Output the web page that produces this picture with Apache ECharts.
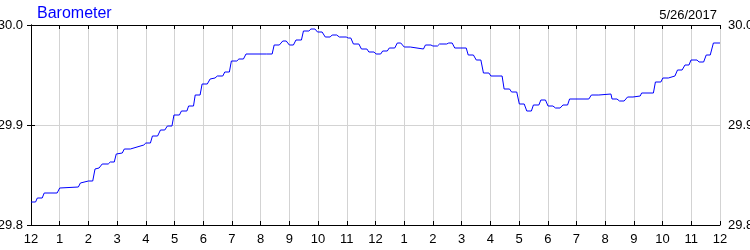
<!DOCTYPE html>
<html>
<head>
<meta charset="utf-8">
<script src="https://cdn.jsdelivr.net/npm/echarts@6/dist/echarts.min.js"></script>
<style>html,body{margin:0;padding:0;background:#fff}#c{width:750px;height:250px}</style>
</head>
<body>
<div id="c"></div>
<script>
// Time of day in hours since midnight (5/26/2017)
var hours = [0,0.16,0.22,0.39,0.46,0.91,1.00,1.65,1.72,2.00,2.15,2.23,2.37,2.48,2.69,2.76,2.90,2.97,3.18,3.25,3.46,3.51,3.93,4.00,4.16,4.23,4.41,4.51,4.66,4.75,4.91,4.98,5.17,5.24,5.43,5.49,5.66,5.72,5.89,5.96,6.14,6.24,6.41,6.49,6.68,6.75,6.91,6.98,7.17,7.24,7.40,7.49,8.21,8.40,8.47,8.65,8.77,8.89,9.00,9.14,9.23,9.42,9.49,9.68,9.75,9.89,9.98,10.14,10.25,10.42,10.49,10.65,10.74,10.98,11.05,11.14,11.23,11.42,11.51,11.70,11.77,11.95,12.02,12.18,12.25,12.41,12.48,12.67,12.76,12.88,13.00,13.21,13.25,13.67,13.74,13.93,14.00,14.16,14.23,14.48,14.55,14.67,14.76,15.16,15.23,15.41,15.51,15.67,15.76,15.95,16.02,16.41,16.48,16.67,16.74,16.92,17.01,17.18,17.27,17.43,17.50,17.69,17.76,17.92,18.01,18.18,18.27,18.43,18.53,18.69,18.76,19.43,19.52,19.78,19.83,20.20,20.24,20.41,20.50,20.66,20.78,20.97,21.01,21.22,21.27,21.68,21.75,21.94,22.01,22.20,22.26,22.43,22.52,22.68,22.78,22.92,22.99,23.20,23.27,23.43,23.52,23.66,23.77,24.00];
// Barometer (inHg)
var pressure = [29.823,29.823,29.827,29.827,29.832,29.832,29.837,29.838,29.842,29.844,29.844,29.856,29.857,29.861,29.861,29.863,29.863,29.871,29.872,29.876,29.876,29.878,29.880,29.882,29.882,29.889,29.889,29.895,29.895,29.899,29.899,29.910,29.910,29.914,29.914,29.919,29.919,29.930,29.930,29.941,29.941,29.946,29.947,29.949,29.949,29.953,29.953,29.964,29.964,29.966,29.966,29.971,29.971,29.971,29.980,29.980,29.984,29.984,29.980,29.980,29.985,29.985,29.994,29.994,29.996,29.996,29.993,29.993,29.988,29.988,29.990,29.990,29.988,29.988,29.987,29.987,29.981,29.981,29.976,29.976,29.973,29.973,29.971,29.971,29.974,29.974,29.977,29.977,29.982,29.982,29.978,29.978,29.976,29.976,29.980,29.980,29.979,29.979,29.981,29.981,29.982,29.982,29.977,29.977,29.970,29.970,29.965,29.965,29.952,29.952,29.949,29.949,29.936,29.936,29.933,29.933,29.921,29.921,29.914,29.914,29.920,29.920,29.925,29.925,29.919,29.919,29.917,29.917,29.920,29.920,29.926,29.926,29.930,29.930,29.931,29.931,29.926,29.926,29.924,29.924,29.928,29.928,29.929,29.929,29.932,29.932,29.943,29.943,29.947,29.947,29.949,29.949,29.955,29.955,29.960,29.960,29.965,29.965,29.963,29.963,29.970,29.970,29.982,29.982];
var yTicks = [29.8, 29.9, 30.0];
var titleText = 'Barometer';
var dateText = '5/26/2017';

var FONT = 'Liberation Sans, Arial, sans-serif';
var data = hours.map(function (h, i) { return [h, pressure[i]]; });
function hourLabel(v) { var h = Math.round(v) % 12; return String(h === 0 ? 12 : h); }

var xCommon = {
  type: 'value', min: 0, max: 24, interval: 1,
  axisLine: { show: true, onZero: false, lineStyle: { color: '#000', width: 1 } },
  axisTick: { show: true, inside: true, length: 4, lineStyle: { color: '#000' } }
};
var yCommon = {
  type: 'value', min: yTicks[0], max: yTicks[yTicks.length - 1], interval: 0.1,
  axisLine: { show: true, lineStyle: { color: '#000', width: 1 } },
  axisTick: { show: true, inside: true, length: 4, lineStyle: { color: '#000' } },
  axisLabel: { color: '#000', fontFamily: FONT, fontSize: 13, margin: 8,
    formatter: function (v) { return v.toFixed(1); } }
};

var chart = echarts.init(document.getElementById('c'), null, { renderer: 'canvas' });
chart.setOption({
  animation: false,
  backgroundColor: '#fff',
  title: [
    { text: titleText, left: 32, top: 1, textStyle: { color: '#0000ff', fontFamily: FONT, fontSize: 16, fontWeight: 'normal' } },
    { text: dateText, right: 28, top: 4, textStyle: { color: '#000', fontFamily: FONT, fontSize: 13, fontWeight: 'normal' } }
  ],
  grid: { left: 31, right: 30, top: 25, bottom: 25, containLabel: false, outerBoundsMode: 'none' },
  xAxis: [
    Object.assign({}, xCommon, {
      position: 'bottom',
      axisLabel: { color: '#000', fontFamily: FONT, fontSize: 13, margin: 8, formatter: hourLabel, showMinLabel: true, showMaxLabel: true },
      splitLine: { show: true, lineStyle: { color: '#d3d3d3', width: 1 } }
    }),
    Object.assign({}, xCommon, {
      position: 'top',
      axisLabel: { show: false },
      splitLine: { show: false }
    })
  ],
  yAxis: [
    Object.assign({}, yCommon, { position: 'left',
      splitLine: { show: true, lineStyle: { color: '#d3d3d3', width: 1 } } }),
    Object.assign({}, yCommon, { position: 'right', splitLine: { show: false } })
  ],
  series: [{
    type: 'line', data: data, xAxisIndex: 0, yAxisIndex: 0,
    showSymbol: false, symbol: 'none',
    lineStyle: { color: '#0000ff', width: 1 },
    z: 3
  }]
});
</script>
</body>
</html>
